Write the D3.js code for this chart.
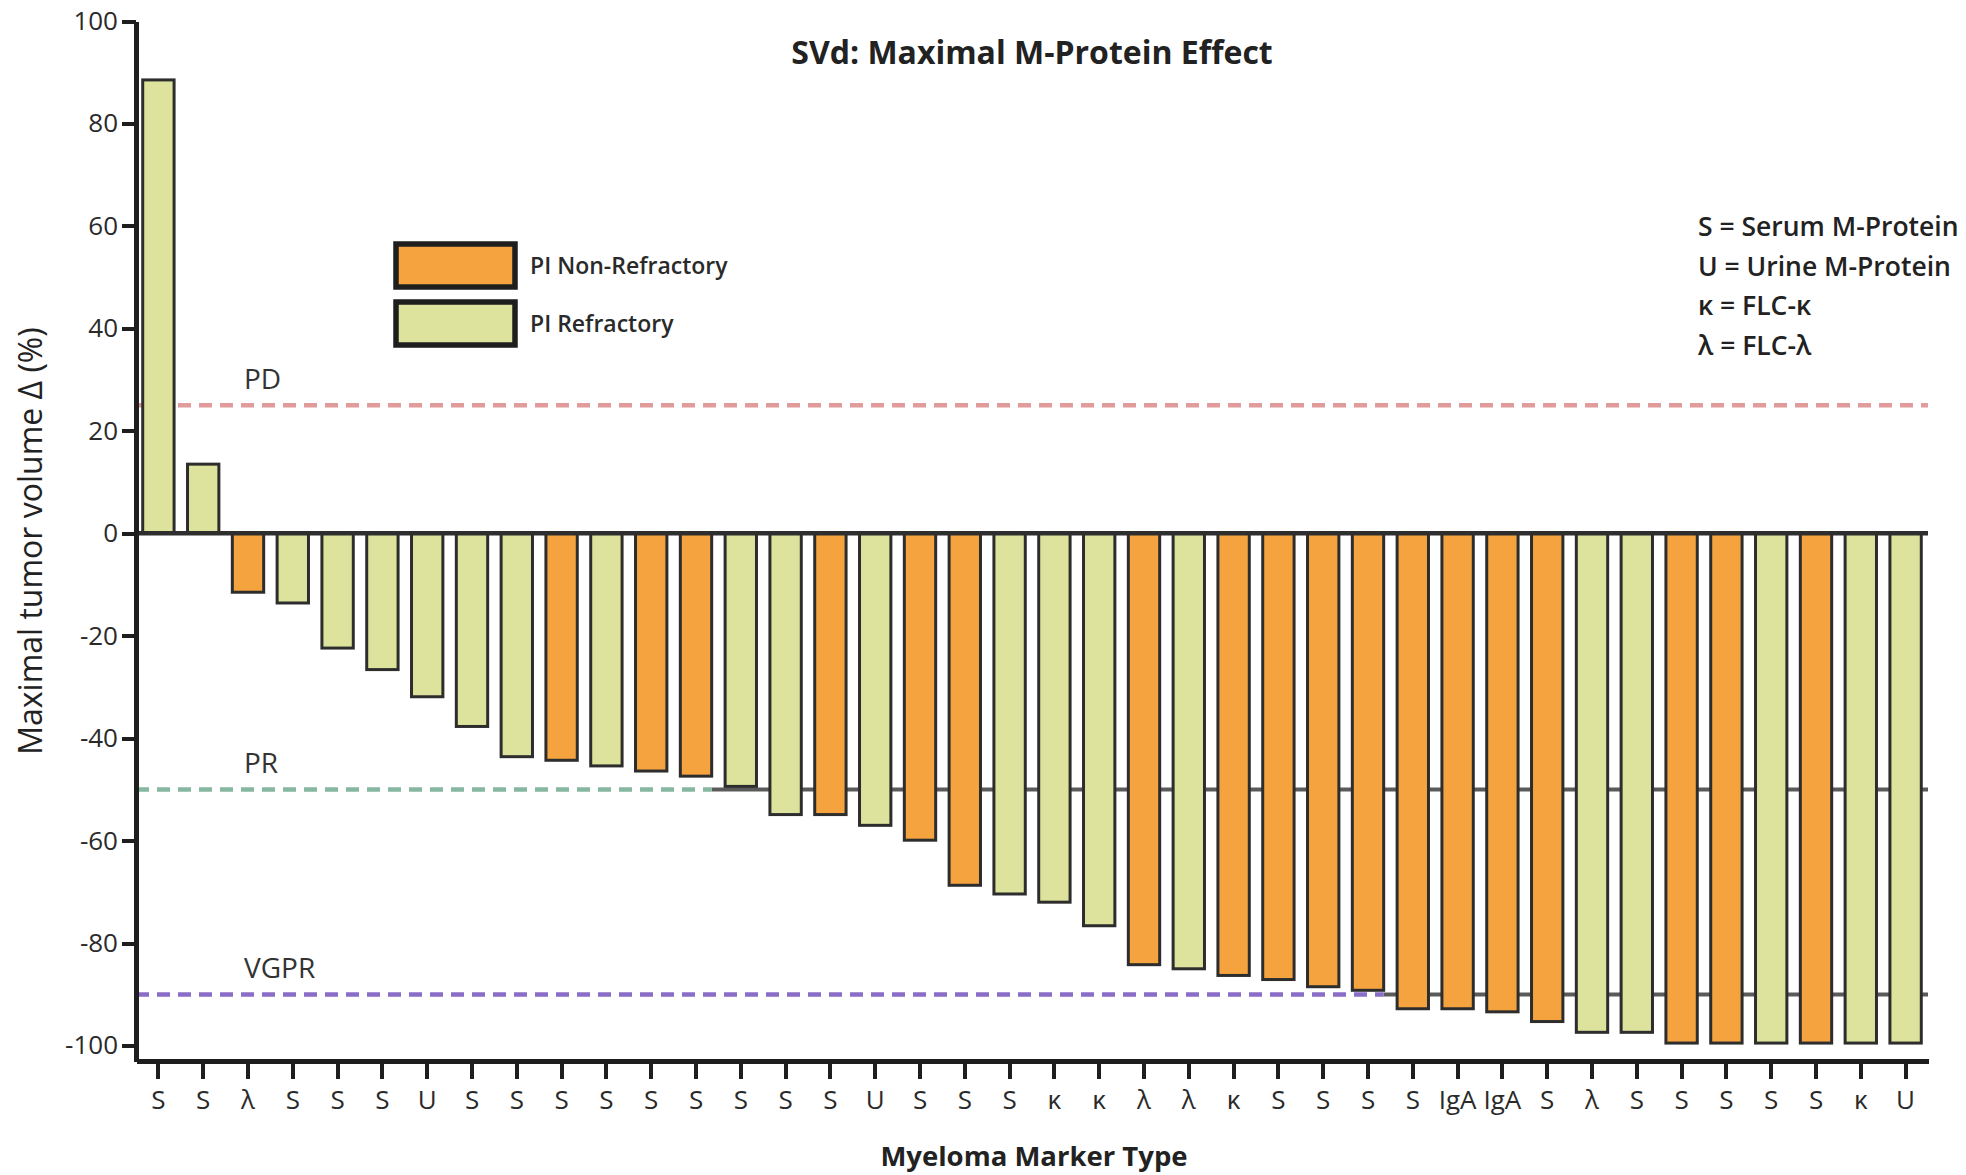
<!DOCTYPE html>
<html>
<head>
<meta charset="utf-8">
<title>SVd: Maximal M-Protein Effect</title>
<script src="https://d3js.org/d3.v7.min.js"></script>
<style>
  body { margin: 0; background: #fff; }
  svg { display: block; font-family: "Open Sans", sans-serif; }
  .axis path, .axis line { stroke: #1e1e1e; shape-rendering: crispEdges; }
  .axis text { fill: #2a2a2a; font-size: 26px; font-family: "Open Sans", sans-serif; }
</style>
</head>
<body>
<div id="chart"></div>
<script>
// marker type under each bar (left to right)
const markers = ["S","S","λ","S","S","S","U","S","S","S",
                 "S","S","S","S","S","S","U","S","S","S",
                 "κ","κ","λ","λ","κ","S","S","S","S","IgA",
                 "IgA","S","λ","S","S","S","S","S","κ","U"];
// maximal change in M-protein, %
const values = [88.5, 13.5, -11.5, -13.6, -22.4, -26.6, -31.9, -37.7, -43.6, -44.3,
                -45.4, -46.4, -47.4, -49.4, -54.9, -54.9, -57.0, -59.9, -68.7, -70.4,
                -72.0, -76.6, -84.2, -85.0, -86.3, -87.1, -88.5, -89.2, -92.8, -92.8,
                -93.4, -95.3, -97.4, -97.4, -99.5, -99.5, -99.5, -99.5, -99.5, -99.5];
// N = PI non-refractory, R = PI refractory
const groups = ["R","R","N","R","R","R","R","R","R","N",
                "R","N","N","R","R","N","R","N","N","R",
                "R","R","N","R","N","N","N","N","N","N",
                "N","N","R","R","N","N","R","N","R","R"];
const groupNames = {N: "PI Non-Refractory", R: "PI Refractory"};
const groupColors = {N: "#f4a33e", R: "#dde39c"};
const yTicks = [-100, -80, -60, -40, -20, 0, 20, 40, 60, 80, 100];
const refNames = ["PD", "PR", "VGPR"];
const refValues = [25, -50, -90];
const refColors = ["#e29b9b", "#86b8a1", "#8a6dc6"];
const keyLines = ["S = Serum M-Protein", "U = Urine M-Protein", "κ = FLC-κ", "λ = FLC-λ"];

const W = 1966, H = 1175;
const x0 = 136, x1 = 1928;

const svg = d3.select("#chart").append("svg")
  .attr("width", W).attr("height", H);

const x = d3.scaleBand()
  .domain(d3.range(values.length))
  .range([x0, x1])
  .paddingInner(0.3)
  .paddingOuter(0.15);

const y = d3.scaleLinear()
  .domain([-103, 100])
  .range([1061, 21]);

// reference lines (drawn behind the bars)
refValues.forEach(function(t, k) {
  let cut = x1;
  if (t < 0) {
    const i = values.findIndex(v => v <= t + 0.7);
    if (i > 0) cut = x(i - 1) + x.bandwidth();
  }
  if (cut < x1) {
    svg.append("line")
      .attr("x1", cut).attr("x2", x1)
      .attr("y1", y(t)).attr("y2", y(t))
      .attr("stroke", "#5a5a5a").attr("stroke-width", 4);
  }
  svg.append("line")
    .attr("x1", x0).attr("x2", cut)
    .attr("y1", y(t)).attr("y2", y(t))
    .attr("stroke", refColors[k]).attr("stroke-width", 4.5)
    .attr("stroke-dasharray", "13,8");
  svg.append("text")
    .attr("x", 244).attr("y", y(t) - 26)
    .attr("dy", "0.35em")
    .style("font-size", "28px")
    .attr("fill", "#333")
    .text(refNames[k]);
});

// bars
svg.append("g").selectAll("rect")
  .data(values)
  .join("rect")
    .attr("x", (d, i) => x(i))
    .attr("width", x.bandwidth())
    .attr("y", d => y(Math.max(0, d)))
    .attr("height", d => Math.abs(y(d) - y(0)))
    .attr("fill", (d, i) => groupColors[groups[i]])
    .attr("stroke", "#2d2d2d")
    .attr("stroke-width", 3);

// zero line
svg.append("line")
  .attr("x1", x0).attr("x2", x1)
  .attr("y1", y(0)).attr("y2", y(0))
  .attr("stroke", "#2e2e2e").attr("stroke-width", 4.5);

// y axis (plain hyphen for negatives, as in the original)
const yAxis = svg.append("g")
  .attr("class", "axis")
  .attr("transform", "translate(" + x0 + ",0)")
  .call(d3.axisLeft(y).tickValues(yTicks).tickFormat(d => String(d))
    .tickSize(14).tickSizeOuter(0).tickPadding(4));
yAxis.select(".domain").attr("stroke-width", 4.5);
yAxis.selectAll(".tick line").attr("stroke-width", 4);

// x axis
const xAxis = svg.append("g")
  .attr("class", "axis")
  .attr("transform", "translate(0," + y(-103) + ")")
  .call(d3.axisBottom(x).tickFormat(i => markers[i]).tickSize(18).tickSizeOuter(0).tickPadding(12));
xAxis.select(".domain").attr("stroke-width", 5.5);
xAxis.selectAll(".tick line").attr("stroke-width", 4);

// axis titles
svg.append("text")
  .attr("x", 1034).attr("y", 1156)
  .attr("dy", "0.35em")
  .attr("text-anchor", "middle")
  .style("font-size", "27.5px").style("font-weight", "bold")
  .attr("fill", "#222")
  .text("Myeloma Marker Type");

svg.append("text")
  .attr("transform", "translate(31,541) rotate(-90)")
  .attr("dy", "0.35em")
  .attr("text-anchor", "middle")
  .style("font-size", "32px")
  .attr("fill", "#222")
  .text("Maximal tumor volume Δ (%)");

// title
svg.append("text")
  .attr("x", 1032).attr("y", 53)
  .attr("dy", "0.35em")
  .attr("text-anchor", "middle")
  .style("font-size", "32px").style("font-weight", "bold")
  .attr("fill", "#222")
  .text("SVd: Maximal M-Protein Effect");

// legend
const legend = svg.append("g").attr("transform", "translate(396,244)");
["N", "R"].forEach(function(g, k) {
  legend.append("rect")
    .attr("x", 0).attr("y", k * 58)
    .attr("width", 119).attr("height", 43)
    .attr("fill", groupColors[g])
    .attr("stroke", "#1e1e1e").attr("stroke-width", 5.5);
  legend.append("text")
    .attr("x", 134).attr("y", k * 58 + 22)
    .attr("dy", "0.35em")
    .style("font-size", "23px").style("font-weight", 600)
    .attr("fill", "#2a2a2a")
    .text(groupNames[g]);
});

// marker key
svg.append("g").selectAll("text")
  .data(keyLines)
  .join("text")
    .attr("x", 1698)
    .attr("y", (d, i) => 227 + i * 39.5)
    .attr("dy", "0.35em")
    .style("font-size", "26.5px").style("font-weight", 600)
    .attr("fill", "#222")
    .text(d => d);
</script>
</body>
</html>
